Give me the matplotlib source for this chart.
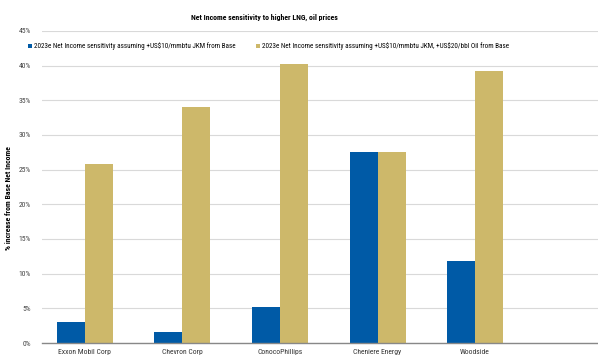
import numpy as np
import matplotlib.pyplot as plt

companies = ["Exxon Mobil Corp", "Chevron Corp", "ConocoPhillips", "Cheniere Energy", "Woodside"]
jkm_only = [3.0, 1.6, 5.2, 27.6, 11.8]
jkm_oil = [25.8, 34.0, 40.3, 27.6, 39.3]
yticks = [0, 5, 10, 15, 20, 25, 30, 35, 40, 45]

label_1 = r"2023e Net Income sensitivity assuming +US\$10/mmbtu JKM from Base"
label_2 = r"2023e Net Income sensitivity assuming +US\$10/mmbtu JKM, +US\$20/bbl Oil from Base"

plt.rcParams['font.family'] = ['Roboto Condensed', 'Liberation Sans Narrow', 'Open Sans Condensed',
                               'Liberation Sans', 'DejaVu Sans']

blue = "#005AA6"
gold = "#CDB86A"

fig = plt.figure(figsize=(5.98, 3.55), dpi=100)
ax = fig.add_axes([0.0702, 0.0338, 0.9298, 0.8789])

x = np.arange(len(companies))
w = 0.287
b1 = ax.bar(x - w / 2, jkm_only, w, color=blue, zorder=3)
b2 = ax.bar(x + w / 2, jkm_oil, w, color=gold, zorder=3)

ax.set_xlim(-0.44, 5.26)
ax.set_ylim(0, 45)
ax.set_yticks(yticks)
ax.set_yticklabels(["%d%%" % t for t in yticks], fontsize=5.5, color="#444444")
ax.set_xticks(x)
ax.set_xticklabels(companies, fontsize=5.5, color="#333333")
ax.tick_params(axis='both', length=0, pad=4)
ax.tick_params(axis='y', pad=8)
ax.grid(axis='y', color="#d9d9d9", linewidth=0.8, zorder=0)
for s in ['top', 'right', 'left']:
    ax.spines[s].set_visible(False)
ax.spines['bottom'].set_color("#888888")
ax.spines['bottom'].set_linewidth(1.0)
ax.spines['bottom'].set_zorder(4)

ax.set_ylabel("% increase from Base Net Income", fontsize=5.6, fontweight='bold')
ax.yaxis.set_label_coords(-0.054, 0.465)

fig.text(0.443, 0.952, "Net Income sensitivity to higher LNG, oil prices",
         fontsize=5.6, fontweight='bold', ha='center', va='center')

leg_kw = dict(frameon=False, fontsize=5.1, handlelength=0.55, handleheight=0.55,
              handletextpad=0.3, borderpad=0, borderaxespad=0)
leg1 = ax.legend([b1], [label_1], loc='center left', bbox_to_anchor=(-0.025, 0.95), **leg_kw)
ax.add_artist(leg1)
ax.legend([b2], [label_2], loc='center left', bbox_to_anchor=(0.385, 0.95), **leg_kw)

fig.savefig("out.png", dpi=100)
